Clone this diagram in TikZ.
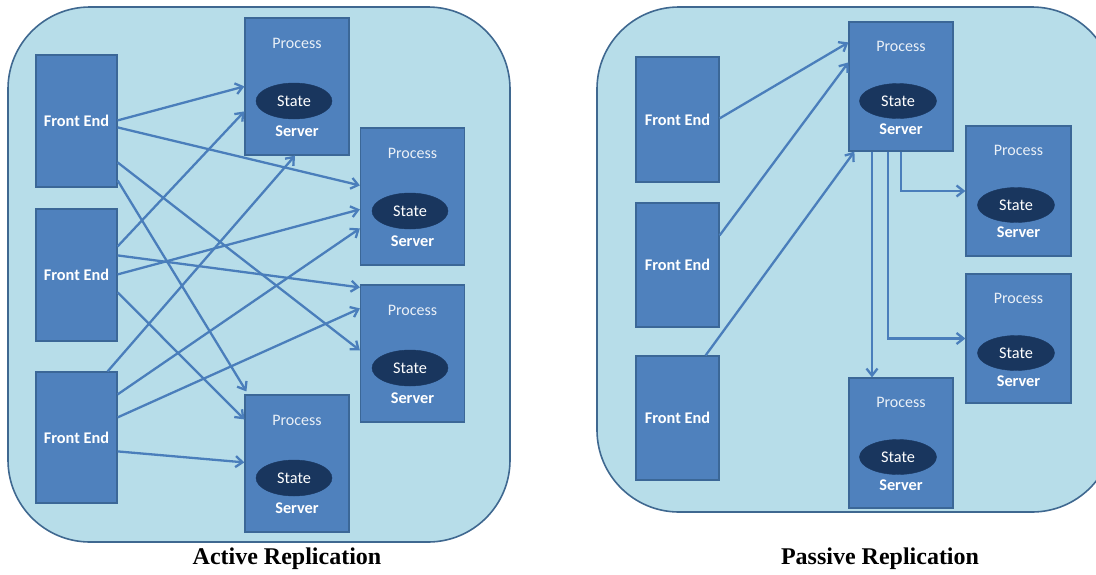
\documentclass[tikz,border=0pt]{standalone}
\usepackage{fontspec}
\setmainfont{Carlito}
\newfontfamily\titlefont{Liberation Serif}
\usetikzlibrary{arrows.meta,calc,shapes.geometric}
\definecolor{panelfill}{HTML}{B7DDE9}
\definecolor{panelline}{HTML}{3F6890}
\definecolor{boxfill}{HTML}{4F81BD}
\definecolor{boxline}{HTML}{3B6797}
\definecolor{statefill}{HTML}{19365E}
\definecolor{arrowcol}{HTML}{4A7EBB}
\tikzset{
  panel/.style={draw=panelline, fill=panelfill, line width=1.6pt, rounded corners=82pt},
  febox/.style={draw=boxline, fill=boxfill, line width=1.2pt, inner sep=0pt, text=white,
    font=\fontsize{16.3}{19}\selectfont\bfseries},
  srvbox/.style={draw=boxline, fill=boxfill, line width=1.2pt, inner sep=0pt},
  statenode/.style={ellipse, fill=statefill, draw=statefill, minimum width=76pt, minimum height=36pt,
    inner sep=0pt, text=white, font=\fontsize{16.3}{19}\selectfont},
  proclabel/.style={text=white!88!boxfill, inner sep=0pt, font=\fontsize{16}{19}\selectfont},
  srvlabel/.style={text=white, inner sep=0pt, font=\fontsize{16.3}{19}\selectfont\bfseries},
  conn/.style={draw=arrowcol, line width=2.3pt, -{Straight Barb[length=7pt,width=11pt]}},
  titlelabel/.style={font=\titlefont\fontsize{24}{28}\selectfont\bfseries, text=black}
}
\begin{document}
\begin{tikzpicture}[x=1pt,y=-1pt]
\useasboundingbox (0,0) rectangle (1096,574);
\fill[white] (0,0) rectangle (1096,574);
% panels
\path[panel] (8,7) rectangle (510,542);
\begin{scope}
\clip (0,0) rectangle (1096,574);
\path[panel] (597,7) rectangle (1114,512);
\end{scope}

% ---------- Active replication ----------
\node[febox, minimum width=81pt, minimum height=132pt] (fea) at (76.5,121) {Front End};
\node[febox, minimum width=81pt, minimum height=132pt] (feb) at (76.5,275) {Front End};
\node[febox, minimum width=81pt, minimum height=131pt] (fec) at (76.5,437.5) {Front End};

\node[srvbox, minimum width=104pt, minimum height=137pt] (sa) at (297,86.5) {};
\node[proclabel] (sap) at (297,43) {Process};
\node[statenode] (sas) at (294,101) {State};
\node[srvlabel] (sav) at (297,131) {Server};

\node[srvbox, minimum width=104pt, minimum height=137pt] (sb) at (412.5,196.5) {};
\node[proclabel] (sbp) at (412.5,153) {Process};
\node[statenode] (sbs) at (410,211) {State};
\node[srvlabel] (sbv) at (412.5,241) {Server};

\node[srvbox, minimum width=104pt, minimum height=137pt] (sc) at (412.5,353.5) {};
\node[proclabel] (scp) at (412.5,310) {Process};
\node[statenode] (scs) at (410,368) {State};
\node[srvlabel] (scv) at (412.5,398) {Server};

\node[srvbox, minimum width=104pt, minimum height=137pt] (sd) at (297,463.5) {};
\node[proclabel] (sdp) at (297,420) {Process};
\node[statenode] (sds) at (294,478) {State};
\node[srvlabel] (sdv) at (297,508) {Server};

\draw[conn] ($(fea.north east)+(0,66)$) -- ($(sa.north west)+(0,69)$);
\draw[conn] ($(fea.north east)+(0,73)$) -- ($(sb.north west)+(0,58)$);
\draw[conn] ($(fea.north east)+(0,108)$) -- ($(sc.north west)+(0,66)$);
\draw[conn] ($(fea.north east)+(0,126)$) -- ($(sd.north west)+(2,-3)$);
\draw[conn] ($(feb.north east)+(0,38)$) -- ($(sa.north west)+(0,94)$);
\draw[conn] ($(feb.north east)+(0,47)$) -- ($(sc.north west)+(0,3)$);
\draw[conn] ($(feb.north east)+(0,66)$) -- ($(sb.north west)+(0,82)$);
\draw[conn] ($(feb.north east)+(0,84)$) -- ($(sd.north west)+(0,25)$);
\draw[conn] ($(fec.north east)+(-10,0)$) -- ($(sa.south)+(-2,0)$);
\draw[conn] ($(fec.north east)+(0,23)$) -- ($(sb.north west)+(0,101)$);
\draw[conn] ($(fec.north east)+(0,46)$) -- ($(sc.north west)+(0,24)$);
\draw[conn] ($(fec.north east)+(0,80)$) -- ($(sd.north west)+(0,68)$);

\node[titlelabel] (t1) at (287,559) {Active Replication};

% ---------- Passive replication ----------
\node[febox, minimum width=83pt, minimum height=125pt] (fra) at (677.5,119.5) {Front End};
\node[febox, minimum width=83pt, minimum height=124pt] (frb) at (677.5,265) {Front End};
\node[febox, minimum width=83pt, minimum height=124pt] (frc) at (677.5,418) {Front End};

\node[srvbox, minimum width=104pt, minimum height=129pt] (pa) at (901,86.5) {};
\node[proclabel] (pap) at (901,46) {Process};
\node[statenode, minimum width=77pt, minimum height=35pt] (pas) at (898,101) {State};
\node[srvlabel] (pav) at (901,129) {Server};

\node[srvbox, minimum width=105pt, minimum height=130pt] (pb) at (1018.5,191) {};
\node[proclabel] (pbp) at (1018.5,150) {Process};
\node[statenode, minimum width=77pt, minimum height=35pt] (pbs) at (1016,205) {State};
\node[srvlabel] (pbv) at (1018.5,232) {Server};

\node[srvbox, minimum width=105pt, minimum height=129pt] (pc) at (1018.5,338.5) {};
\node[proclabel] (pcp) at (1018.5,298) {Process};
\node[statenode, minimum width=77pt, minimum height=35pt] (pcs) at (1016,353) {State};
\node[srvlabel] (pcv) at (1018.5,381) {Server};

\node[srvbox, minimum width=104pt, minimum height=130pt] (pd) at (901,443) {};
\node[proclabel] (pdp) at (901,402) {Process};
\node[statenode, minimum width=77pt, minimum height=35pt] (pds) at (898,457) {State};
\node[srvlabel] (pdv) at (901,485) {Server};

\draw[conn] ($(fra.north east)+(0,62)$) -- ($(pa.north west)+(0,21)$);
\draw[conn] ($(frb.north east)+(0,33)$) -- ($(pa.north west)+(0,41)$);
\draw[conn] ($(frc.north east)+(-14,0)$) -- ($(pa.south west)+(6,0)$);
\draw[conn] (pa.south) |- (pb.west);
\coordinate (tb) at ($(pa.south)+(-13,0)$);
\draw[conn] (tb) |- (pc.west);
\coordinate (tc) at ($(pa.south)+(-29,0)$);
\draw[conn] (tc) -- (tc |- pd.north);

\node[titlelabel] (t2) at (880,559) {Passive Replication};
\end{tikzpicture}
\end{document}
